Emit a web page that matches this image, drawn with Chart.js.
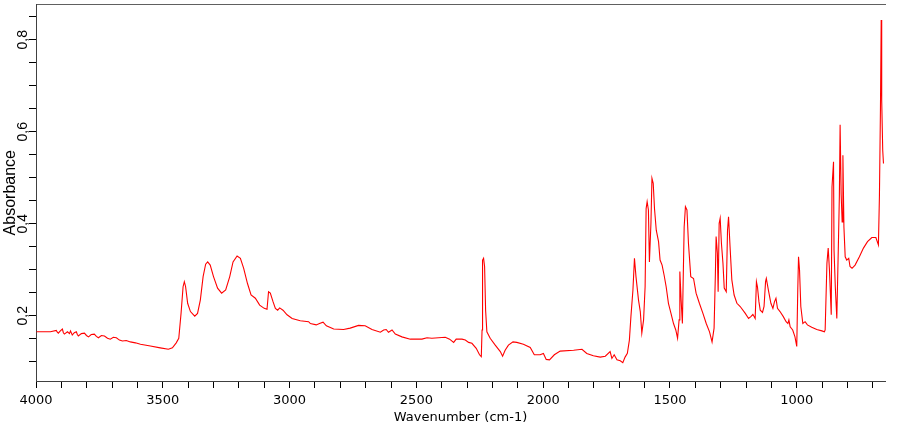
<!DOCTYPE html>
<html>
<head>
<meta charset="utf-8">
<script src="https://cdn.jsdelivr.net/npm/chart.js@4.4.1/dist/chart.umd.min.js"></script>
<style>
    body { margin: 0; background: #ffffff; }
</style>
</head>
<body>
<canvas id="irChart" width="900" height="425"></canvas>
<script>
// spectrum (cm-1, absorbance)
const wavenumbers = [
    3998, 3943, 3920, 3916, 3912, 3904, 3896, 3892, 3888, 3876, 3868, 3864, 3857, 3849, 3841, 3837, 3833, 3821, 3809, 3801,
    3793, 3782, 3770, 3762, 3754, 3742, 3730, 3718, 3707, 3695, 3683, 3671, 3659, 3644, 3628, 3608, 3588, 3549, 3510, 3478, 3462, 3447,
    3437, 3428, 3420, 3415, 3410, 3402, 3391, 3374, 3363, 3352, 3341, 3331, 3323, 3313, 3300, 3284, 3268, 3252, 3236, 3223,
    3207, 3194, 3181, 3166, 3152, 3135, 3118, 3100, 3089, 3083, 3076, 3065, 3056, 3047, 3039, 3026, 3010, 2990, 2958, 2925,
    2918, 2895, 2882, 2868, 2855, 2826, 2787, 2761, 2728, 2702, 2675, 2642, 2629, 2619, 2610, 2596, 2583, 2557, 2524, 2478,
    2458, 2439, 2386, 2369, 2353, 2343, 2320, 2307, 2294,
    2281, 2264, 2251, 2244, 2241, 2239, 2235, 2231, 2227, 2222, 2209, 2189, 2169, 2160, 2150, 2137, 2119, 2104, 2078, 2051,
    2035, 2012, 1999, 1988, 1975, 1956, 1933, 1880, 1847, 1828, 1802, 1775, 1755, 1736, 1729, 1720, 1709, 1696, 1686, 1677,
    1668, 1660, 1654, 1646, 1640,
    1634, 1624, 1617, 1611, 1604, 1598, 1594, 1590, 1585, 1581, 1575, 1571, 1566, 1561, 1554, 1545, 1539, 1531, 1523, 1515,
    1506, 1496, 1486, 1477, 1470, 1464, 1461, 1456, 1451, 1444, 1439, 1433, 1427, 1418, 1407, 1397, 1384, 1370, 1357, 1344,
    1334, 1326, 1321, 1318, 1313, 1310, 1306, 1302, 1297, 1291, 1286, 1278, 1273, 1269, 1263, 1256, 1247,
    1236, 1223, 1203, 1190, 1181, 1173, 1164, 1159, 1155, 1149, 1144, 1135, 1129, 1123, 1120, 1112, 1102, 1094, 1088, 1082,
    1076, 1066, 1053, 1042, 1035, 1031, 1026, 1016, 1007, 1000, 996, 993, 989, 984, 976, 967, 958, 941, 921, 901, 891,
    888, 881, 876, 871, 864, 861, 855, 853, 848, 842, 836, 832, 829, 825, 821, 818, 814, 809, 803, 795,
    790, 782, 770, 753, 737, 721, 704, 688, 678, 674, 670, 667, 665, 661, 658
];
const absorbance = [
    0.165, 0.165, 0.168, 0.164, 0.162, 0.167, 0.171, 0.163, 0.160, 0.165, 0.161, 0.167, 0.158, 0.163, 0.165, 0.159, 0.156, 0.161, 0.162, 0.157,
    0.154, 0.159, 0.160, 0.155, 0.152, 0.157, 0.156, 0.151, 0.149, 0.153, 0.152, 0.147, 0.145, 0.146, 0.143, 0.141, 0.138, 0.134, 0.130, 0.127, 0.130, 0.141,
    0.151, 0.205, 0.263, 0.274, 0.263, 0.227, 0.209, 0.199, 0.205, 0.234, 0.285, 0.312, 0.317, 0.310, 0.285, 0.260, 0.249, 0.256, 0.285, 0.317,
    0.330, 0.325, 0.303, 0.270, 0.245, 0.238, 0.223, 0.216, 0.214, 0.252, 0.249, 0.230, 0.216, 0.212, 0.217, 0.212, 0.202, 0.194, 0.189, 0.187,
    0.183, 0.180, 0.183, 0.186, 0.178, 0.171, 0.170, 0.173, 0.179, 0.178, 0.170, 0.164, 0.169, 0.170, 0.164, 0.169, 0.160, 0.154, 0.149, 0.149,
    0.152, 0.151, 0.153, 0.149, 0.142, 0.149, 0.149, 0.147, 0.142,
    0.140, 0.129, 0.115, 0.111, 0.169, 0.321, 0.325, 0.307, 0.212, 0.165, 0.151, 0.136, 0.122, 0.112, 0.125, 0.136, 0.143, 0.142, 0.138, 0.131,
    0.115, 0.115, 0.118, 0.105, 0.104, 0.115, 0.123, 0.125, 0.127, 0.118, 0.113, 0.110, 0.112, 0.122, 0.107, 0.115, 0.104, 0.102, 0.098, 0.110,
    0.118, 0.147, 0.198, 0.256, 0.325,
    0.285, 0.234, 0.209, 0.162, 0.191, 0.263, 0.433, 0.448, 0.430, 0.317, 0.401, 0.499, 0.488, 0.433, 0.386, 0.361, 0.321, 0.310, 0.288, 0.263,
    0.227, 0.205, 0.183, 0.169, 0.151, 0.191, 0.296, 0.234, 0.183, 0.393, 0.437, 0.430, 0.357, 0.285, 0.281, 0.249, 0.227, 0.205, 0.183, 0.165,
    0.143, 0.173, 0.288, 0.372, 0.336, 0.252, 0.401, 0.412, 0.357, 0.314, 0.260, 0.252, 0.386, 0.415, 0.350, 0.278, 0.245,
    0.227, 0.220, 0.205, 0.194, 0.198, 0.203, 0.194, 0.274, 0.263, 0.230, 0.212, 0.207, 0.220, 0.274, 0.281, 0.256, 0.227, 0.216, 0.230, 0.238,
    0.216, 0.209, 0.198, 0.187, 0.183, 0.191, 0.176, 0.169, 0.154, 0.133, 0.256, 0.328, 0.299, 0.220, 0.183, 0.187, 0.180, 0.175, 0.170, 0.167, 0.165,
    0.169, 0.314, 0.347, 0.299, 0.202, 0.480, 0.535, 0.343, 0.263, 0.194, 0.350, 0.459, 0.615, 0.466, 0.404, 0.549, 0.393, 0.328, 0.321, 0.325,
    0.307, 0.303, 0.310, 0.328, 0.347, 0.361, 0.370, 0.370, 0.354, 0.459, 0.647, 0.843, 0.669, 0.560, 0.531
];
const xLabelValues = [4000, 3500, 3000, 2500, 2000, 1500, 1000];
const yLabelValues = [0.2, 0.4, 0.6, 0.8];

const points = [];
for (let i = 0; i < wavenumbers.length; i++) {
    points.push({x: wavenumbers[i], y: absorbance[i]});
}

const ctx = document.getElementById('irChart').getContext('2d');
var irChart = new Chart(ctx, {
    type: 'line',
    data: {
        datasets: [{
            label: 'Absorbance',
            data: points,
            borderColor: '#ff0000',
            borderWidth: 1.1,
            pointRadius: 0,
            tension: 0,
            fill: false
        }]
    },
    options: {
        responsive: false,
        animation: false,
        devicePixelRatio: 1,
        layout: {
            padding: {top: 4, right: 15, left: 0, bottom: 0}
        },
        plugins: {
            legend: {display: false},
            tooltip: {enabled: false}
        },
        scales: {
            x: {
                type: 'linear',
                position: 'bottom',
                reverse: true,
                min: 652,
                max: 4000,
                afterFit: (scale) => { scale.height = 44; },
                ticks: {
                    stepSize: 100,
                    autoSkip: false,
                    includeBounds: false,
                    maxRotation: 0,
                    minRotation: 0,
                    padding: 5,
                    color: '#000',
                    font: {family: 'DejaVu Sans', size: 13},
                    callback: (v) => xLabelValues.includes(v) ? String(v) : ''
                },
                grid: {
                    drawOnChartArea: false,
                    drawTicks: true,
                    tickLength: 7,
                    color: '#000'
                },
                border: {color: '#404040', width: 1},
                title: {
                    display: true,
                    text: 'Wavenumber (cm-1)',
                    color: '#000',
                    font: {family: 'DejaVu Sans', size: 13},
                    padding: 0
                }
            },
            xTop: {
                type: 'linear',
                axis: 'x',
                position: 'top',
                ticks: {display: false},
                grid: {drawOnChartArea: false, drawTicks: false},
                border: {color: '#606060', width: 1}
            },
            y: {
                type: 'linear',
                position: 'left',
                min: 0.058,
                max: 0.877,
                afterFit: (scale) => { scale.width = 36; },
                ticks: {
                    stepSize: 0.05,
                    autoSkip: false,
                    includeBounds: false,
                    minRotation: 90,
                    maxRotation: 90,
                    crossAlign: 'center',
                    padding: -4,
                    color: '#000',
                    font: {family: 'Liberation Sans', size: 14},
                    callback: (v) => {
                        const r = Math.round(v * 100) / 100;
                        return yLabelValues.includes(r) ? r.toFixed(1).replace('.', ',') : '';
                    }
                },
                grid: {
                    drawOnChartArea: false,
                    drawTicks: true,
                    tickLength: 7,
                    color: '#000'
                },
                border: {color: '#404040', width: 1},
                title: {
                    display: true,
                    text: 'Absorbance',
                    color: '#000',
                    font: {family: 'Liberation Sans', size: 16},
                    padding: {top: 1, bottom: 0}
                }
            }
        }
    }
});
</script>
</body>
</html>
